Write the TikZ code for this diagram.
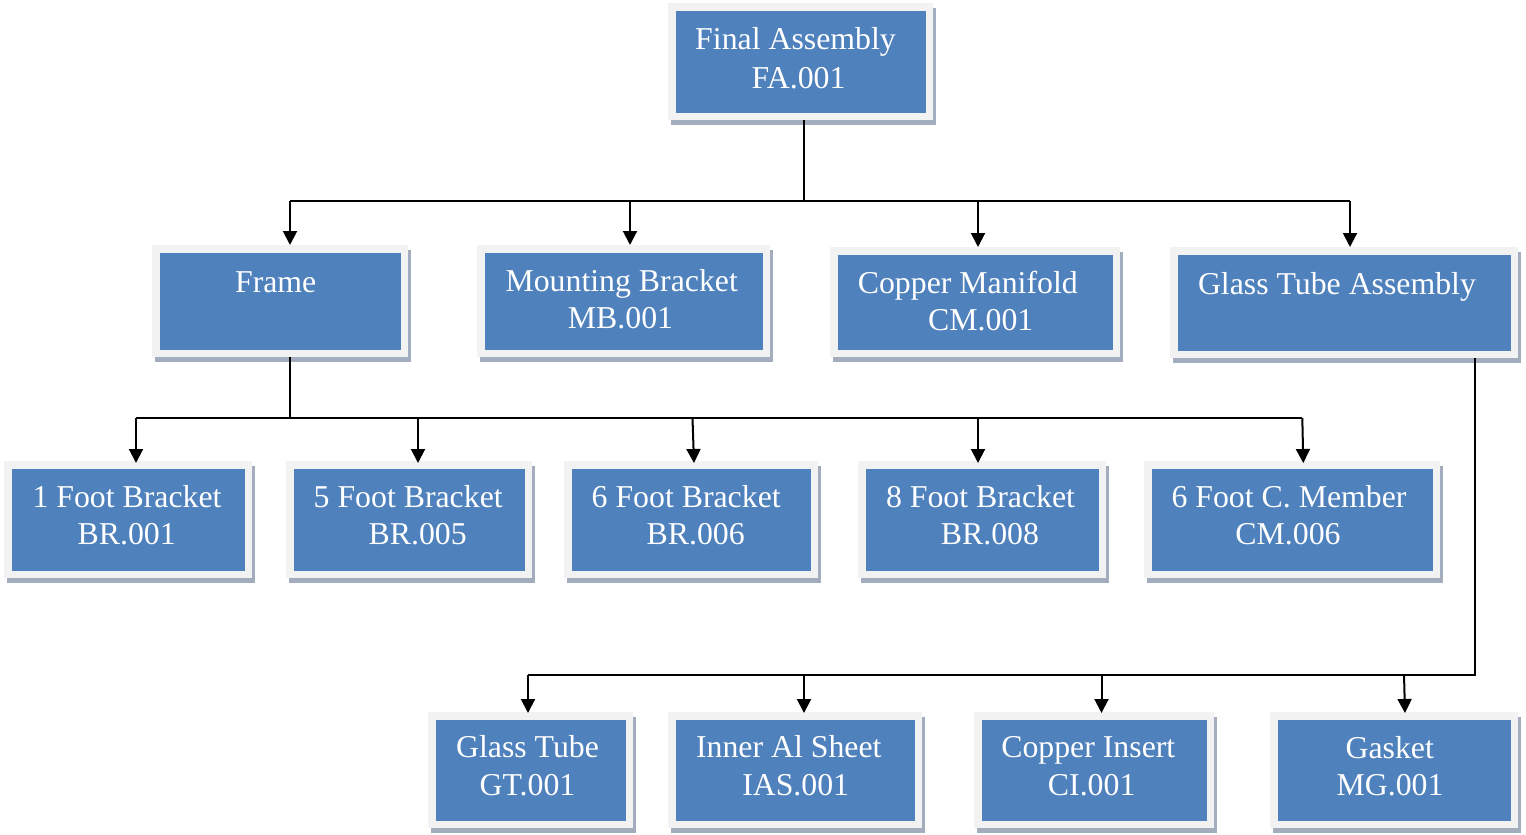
\documentclass[tikz,border=0pt]{standalone}
\usepackage{fontspec}
\setmainfont{Liberation Serif}
\usetikzlibrary{arrows.meta,calc,fit}
\definecolor{boxblue}{HTML}{4F81BD}
\definecolor{framegray}{HTML}{F2F2F2}
\definecolor{shadegray}{HTML}{A3ADBE}
\tikzset{
  partframe/.style={draw=none,fill=framegray,inner sep=0pt,outer sep=0pt},
  wire/.style={line width=2pt,black},
  arr/.style={wire,-{Triangle[width=14pt,length=14pt]}},
  lbl/.style={text=white,anchor=base,inner sep=0pt,
              font=\fontsize{31.8}{38}\selectfont}
}
% \partbox{name}{x1}{y1}{x2}{y2}: shadow, light frame and blue panel
\newcommand\partbox[5]{%
  \fill[shadegray] (#2+3,#3+5) rectangle (#4+3,#5+5);
  \coordinate (#1-a) at (#2,#3);
  \coordinate (#1-b) at (#4,#5);
  \node[partframe,fill=framegray,fit=(#1-a)(#1-b)] (#1) {};
  \fill[boxblue] ($(#1-a)+(7.5,7.5)$) rectangle ($(#1-b)+(-7.5,-7.5)$);
}
\begin{document}
\begin{tikzpicture}[x=1pt,y=-1pt]
\useasboundingbox[fill=white] (0,0) rectangle (1526,835);

% top level
\partbox{fa}{668}{3}{933}{120}
% second level
\partbox{frame}{152}{245}{408}{357}
\partbox{mb}{477}{245}{770}{357}
\partbox{cm}{830}{247}{1120}{357}
\partbox{gta}{1170}{247}{1518}{358}
% frame parts
\partbox{bra}{4}{461}{252}{578}
\partbox{brb}{286}{461}{532}{578}
\partbox{brc}{564}{461}{818}{578}
\partbox{brd}{858}{461}{1106}{578}
\partbox{cmb}{1144}{461}{1440}{578}
% glass tube assembly parts
\partbox{gt}{428}{712}{633}{828}
\partbox{ias}{668}{712}{922}{828}
\partbox{ci}{974}{712}{1214}{828}
\partbox{mg}{1270}{712}{1518}{828}

% labels
\node[lbl] (fa-t1) at (795.5,49) {Final Assembly};
\node[lbl] (fa-t2) at (798.5,88) {FA.001};
\node[lbl] (frame-t1) at (275.7,292.7) {Frame};
\node[lbl] (mb-t1) at (621.7,291.7) {Mounting Bracket};
\node[lbl] (mb-t2) at (620.5,328.3) {MB.001};
\node[lbl] (cm-t1) at (967.8,293.3) {Copper Manifold};
\node[lbl] (cm-t2) at (980.8,330) {CM.001};
\node[lbl] (gta-t1) at (1337,294) {Glass Tube Assembly};
\node[lbl] (bra-t1) at (127,507.7) {1 Foot Bracket};
\node[lbl] (bra-t2) at (126.7,544.3) {BR.001};
\node[lbl] (brb-t1) at (408.2,507.7) {5 Foot Bracket};
\node[lbl] (brb-t2) at (417.7,544.3) {BR.005};
\node[lbl] (brc-t1) at (686.2,507.7) {6 Foot Bracket};
\node[lbl] (brc-t2) at (695.7,544.3) {BR.006};
\node[lbl] (brd-t1) at (980.5,507.7) {8 Foot Bracket};
\node[lbl] (brd-t2) at (990,544.3) {BR.008};
\node[lbl] (cmb-t1) at (1289,507.7) {6 Foot C. Member};
\node[lbl] (cmb-t2) at (1288,544.3) {CM.006};
\node[lbl] (gt-t1) at (527.5,757.3) {Glass Tube};
\node[lbl] (gt-t2) at (527.5,795) {GT.001};
\node[lbl] (ias-t1) at (788.8,757.3) {Inner Al Sheet};
\node[lbl] (ias-t2) at (795.7,795) {IAS.001};
\node[lbl] (ci-t1) at (1088.3,757.3) {Copper Insert};
\node[lbl] (ci-t2) at (1091.7,795) {CI.001};
\node[lbl] (mg-t1) at (1389.7,758.3) {Gasket};
\node[lbl] (mg-t2) at (1390,795) {MG.001};

% bus from the final assembly
\coordinate (s1) at (804,201);
\coordinate (s1a) at (290,201);
\coordinate (s1b) at (630,201);
\coordinate (s1c) at (978,201);
\coordinate (s1d) at (1350,201);
\draw[wire] (s1 |- fa.south) -- (s1);
\draw[wire] (s1a) -- (s1d);
\draw[arr] (s1a) -- (s1a |- frame.north);
\draw[arr] (s1b) -- (s1b |- mb.north);
\draw[arr] (s1c) -- (s1c |- cm.north);
\draw[arr] (s1d) -- (s1d |- gta.north);

% bus from the frame
\coordinate (s2) at (290,418);
\coordinate (s2a) at (136,418);
\coordinate (s2b) at (418,418);
\coordinate (s2c) at (692.5,418);
\coordinate (s2d) at (978,418);
\coordinate (s2e) at (1302.3,418);
\draw[wire] (s2 |- frame.south) -- (s2);
\draw[wire] (s2a) -- (s2e);
\draw[arr] (s2a) -- ([yshift=-2pt]s2a |- bra.north);
\draw[arr] (s2b) -- ([yshift=-2pt]s2b |- brb.north);
\draw[arr] (s2c) -- ([xshift=1.5pt,yshift=-2pt]s2c |- brc.north);
\draw[arr] (s2d) -- ([yshift=-2pt]s2d |- brd.north);
\draw[arr] (s2e) -- ([xshift=1pt,yshift=-2pt]s2e |- cmb.north);

% bus from the glass tube assembly
\coordinate (s3) at (1475,674.5);
\coordinate (s3a) at (528,674.5);
\coordinate (s3b) at (804,674.5);
\coordinate (s3c) at (1101.5,674.5);
\coordinate (s3d) at (1404,674.5);
\draw[wire] (s3 |- gta.south) -- (s3) -- (s3a);
\draw[arr] (s3a) -- ([yshift=-1pt]s3a |- gt.north);
\draw[arr] (s3b) -- ([yshift=-1pt]s3b |- ias.north);
\draw[arr] (s3c) -- ([yshift=-1pt]s3c |- ci.north);
\draw[arr] (s3d) -- ([xshift=1pt,yshift=-1pt]s3d |- mg.north);
\end{tikzpicture}
\end{document}
